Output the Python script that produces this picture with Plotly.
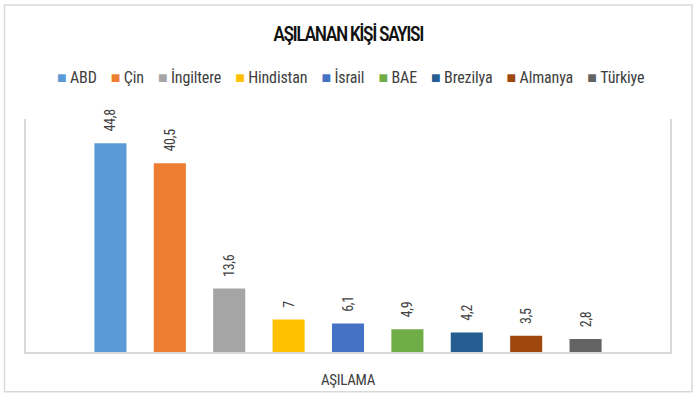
import plotly.graph_objects as go

categories = ["AŞILAMA"]
series_names = ["ABD", "Çin", "İngiltere", "Hindistan", "İsrail", "BAE", "Brezilya", "Almanya", "Türkiye"]
series_values = [44.8, 40.5, 13.6, 7, 6.1, 4.9, 4.2, 3.5, 2.8]
colors = ["#5B9BD5", "#ED7D31", "#A5A5A5", "#FFC000", "#4472C4", "#70AD47", "#255E91", "#9E480E", "#636363"]
title_text = "AŞILANAN KİŞİ SAYISI"

W, H = 696, 397
L, R, T, B = 26, 25.5, 118.5, 44.5
PW, PH = W - L - R, H - T - B
FONT = "Roboto"


def cond(s, spacing="0px"):
    return f"<span style='font-stretch:condensed; letter-spacing:{spacing}'>{s}</span>"


fig = go.Figure()
for name, val, col in zip(series_names, series_values, colors):
    label = f"{val:g}".replace(".", ",")
    fig.add_trace(go.Bar(
        x=categories, y=[val], name=name,
        marker=dict(color=col, line=dict(width=0)),
        text=[cond("\u00a0\u00a0\u00a0" + label, "-0.3px")], textposition="outside", textangle=-90,
        textfont=dict(family=FONT, size=14, color="#404040"),
        constraintext="none", cliponaxis=False, showlegend=False,
    ))

parts = []
for name, col in zip(series_names, colors):
    parts.append(f"<span style='color:{col}'>■</span>\u00a0{name}")
legend_text = cond("\u00a0\u00a0\u00a0\u00a0".join(parts), "-0.15px")


def px_x(x):
    return (x - L) / PW


def px_y(y):
    return (H - B - y) / PH


fig.add_annotation(
    text=legend_text, xref="paper", yref="paper",
    x=px_x(351), y=px_y(77), xanchor="center", yanchor="middle",
    showarrow=False, font=dict(family=FONT, size=16, color="#404040"),
)

fig.add_shape(
    type="rect", xref="paper", yref="paper",
    x0=px_x(4.5), x1=px_x(692.5), y0=px_y(392.5), y1=px_y(4),
    line=dict(color="#d9d9d9", width=1.5), fillcolor="rgba(0,0,0,0)", layer="below",
)

fig.update_layout(
    width=W, height=H,
    margin=dict(l=L, r=R, t=T, b=B, pad=0),
    paper_bgcolor="white", plot_bgcolor="white",
    title=dict(text=cond(title_text, "-1.5px"), x=0.5, xanchor="center", y=1 - 34 / H, yanchor="middle",
               yref="container", font=dict(family=FONT, size=20, color="#111111", weight=500)),
    barmode="group", bargap=0.17, bargroupgap=0.46,
    showlegend=False,
    xaxis=dict(showline=True, linecolor="#d9d9d9", linewidth=1.5, showgrid=False,
               ticks="", ticklabelstandoff=13, automargin=False,
               tickvals=categories, ticktext=[cond(c, "-0.3px") for c in categories],
               tickfont=dict(family=FONT, size=15, color="#404040")),
    yaxis=dict(range=[0, 50], showline=True, mirror=True, linecolor="#d9d9d9", linewidth=1.5,
               showgrid=False, zeroline=False, showticklabels=False, ticks="", automargin=False),
)

fig.write_html("out.html", config={"displayModeBar": False},
               post_script="document.body.style.margin='0';")
